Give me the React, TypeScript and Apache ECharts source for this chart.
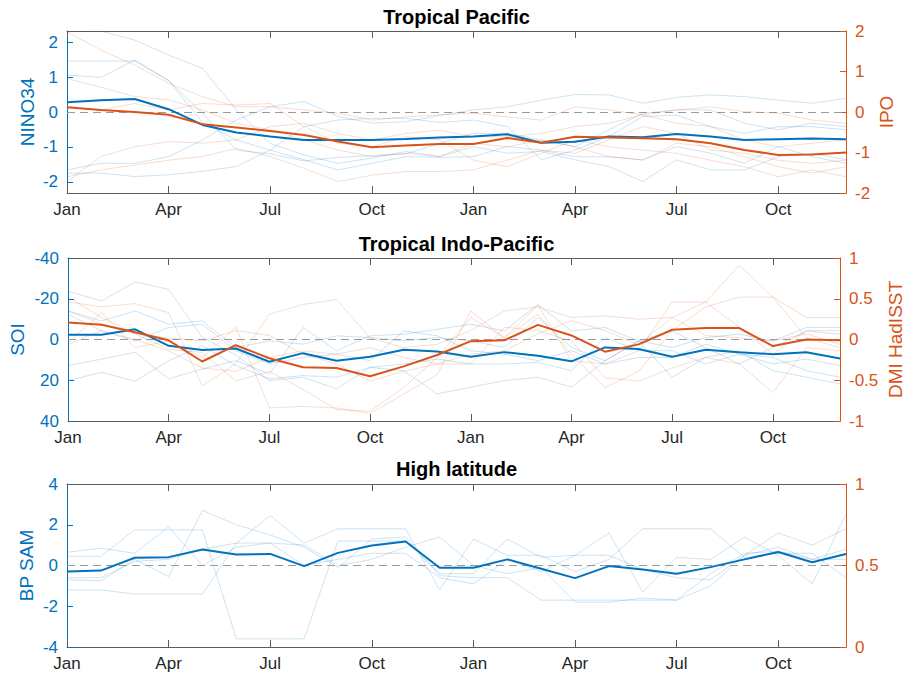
import React, { useEffect, useRef } from 'react';
import * as echarts from 'echarts';

// Month axis: two consecutive years
const MONTH_NAMES = ['Jan', 'Feb', 'Mar', 'Apr', 'May', 'Jun', 'Jul', 'Aug', 'Sep', 'Oct', 'Nov', 'Dec'];
const MONTHS = [...MONTH_NAMES, ...MONTH_NAMES];

// Tropical Pacific: NINO34 (left) and IPO (right)
const NINO34_MEAN = [0.28, 0.34, 0.37, 0.08, -0.37, -0.59, -0.7, -0.8, -0.8, -0.8, -0.77, -0.73, -0.7, -0.64, -0.88, -0.85, -0.7, -0.72, -0.63, -0.7, -0.8, -0.78, -0.76, -0.78];
const NINO34_1 = [2.3, 2.32, 2.06, 1.63, 1.25, 0.06, -0.9, -1.23, -1.47, -1.32, -1.13, -1.28, -0.99, -1.18, -1.13, -1.37, -1.56, -1.99, -1.37, -1.66, -1.66, -1.28, -1.18, -1.37];
const NINO34_2 = [1.46, 1.46, 1.46, 0.9, -0.3, -0.8, -1.09, -1.37, -1.66, -1.47, -1.28, -1.3, -1.28, -0.99, -1.09, -1.28, -1.28, -1.37, -0.99, -1.18, -1.47, -0.99, -1.28, -1.47];
const NINO34_3 = [1.06, 0.99, 1.49, 0.9, -0.04, -1.09, -1.2, -1.4, -1.3, -1.25, -1.2, -0.9, -0.61, -0.61, -0.8, -0.99, -0.51, -0.04, 0.06, 0.06, -0.32, -0.51, -0.32, -0.42];
const NINO34_4 = [-1.66, -1.47, -1.47, -1.28, -0.8, -0.23, 0.15, 0.3, -0.13, -0.32, -0.28, -0.1, 0.06, 0.15, 0.34, 0.5, 0.49, 0.25, 0.42, 0.49, 0.44, 0.34, 0.25, 0.39];
const NINO34_5 = [-1.75, -1.75, -1.85, -1.8, -1.7, -1.56, -1.09, -0.42, -0.23, -0.18, -0.18, -0.3, -0.23, -0.42, -1.37, -1.09, -0.7, -0.13, -0.09, -0.42, -0.61, -0.42, -0.42, -0.51];

const IPO_MEAN = [0.12, 0.05, 0.0, -0.07, -0.3, -0.38, -0.47, -0.57, -0.73, -0.87, -0.83, -0.79, -0.79, -0.64, -0.76, -0.61, -0.63, -0.65, -0.67, -0.77, -0.94, -1.06, -1.05, -1.0];
const IPO_1 = [1.98, 1.53, 1.16, 0.71, 0.38, 0.13, 0.13, 0.05, -0.03, -0.2, -0.12, -0.07, -0.03, -0.12, -0.2, 0.13, 0.05, -0.07, 0.05, 0.13, 0.01, -0.03, -0.2, -0.28];
const IPO_2 = [0.83, 0.61, 0.38, 0.3, 0.05, -0.28, -0.44, -0.69, -0.94, -1.1, -1.02, -1.1, -0.77, -0.86, -0.69, -0.86, -1.1, -1.19, -0.77, -0.86, -1.1, -1.35, -1.51, -1.35];
const IPO_3 = [-1.72, -1.1, -0.86, -0.73, -0.77, -0.69, -0.36, -0.28, -0.53, -0.69, -0.53, -0.45, -0.61, -0.61, -0.53, -0.36, -0.28, -0.07, -0.28, -0.36, -0.69, -0.86, -0.77, -0.69];
const IPO_4 = [-1.6, -1.43, -1.31, -1.19, -1.1, -0.9, -1.1, -1.39, -1.72, -1.56, -1.47, -1.47, -1.43, -1.19, -0.94, -1.02, -0.69, -0.36, -0.53, -0.94, -1.02, -1.19, -1.27, -1.19];
const IPO_5 = [0.13, 0.05, 0.21, 0.05, 0.21, 0.17, 0.21, -0.36, -0.77, -0.86, -0.61, -0.69, -1.19, -1.35, -1.02, -0.69, -0.86, -0.94, -1.02, -1.19, -1.35, -1.6, -1.43, -1.6];

// Tropical Indo-Pacific: SOI (left, inverted) and DMI HadISST (right)
const SOI_MEAN = [-2.3, -2.3, -5.0, 3.1, 5.2, 4.4, 10.9, 6.7, 10.4, 8.5, 5.0, 5.9, 8.5, 6.2, 8.0, 10.7, 3.9, 4.7, 8.5, 5.0, 6.3, 7.2, 6.3, 9.3];
const SOI_1 = [-23.7, -18.9, -28.3, -24.6, -1.0, 7.5, 20.2, 18.5, 24.2, 13.7, 15.3, 26.7, 23.4, 20.2, 18.5, 23.4, 10.4, 0.7, 18.5, 8.8, 5.5, 15.3, 18.5, 21.8];
const SOI_2 = [20.2, 16.1, 20.5, 10.4, 3.1, 12.8, 19.3, 17.7, 18.5, 13.7, 12.0, 9.6, 12.0, 12.0, 11.2, 15.3, -1.0, 5.5, 5.5, 12.0, 7.2, 12.0, 9.6, 12.8];
const SOI_3 = [12.8, 9.6, 6.3, 19.3, 14.5, 10.4, 16.9, -5.9, 5.5, -1.8, -2.6, -5.0, -7.5, -4.2, -17.2, -4.2, -5.9, 0.7, 3.9, -1.0, -2.6, 0.7, -5.9, -5.9];
const SOI_4 = [-14.0, -9.1, -14.0, -7.5, -9.1, 3.9, 0.7, 2.3, -1.8, -1.0, 0.7, -1.0, 0.7, 3.9, -10.7, 3.9, 10.4, 0.7, -4.2, 3.9, 12.0, 3.9, -4.2, -2.6];
const SOI_5 = [-12.4, -4.2, 0.7, -5.9, -7.5, 5.5, 12.0, 8.8, 7.2, 10.4, -4.2, -1.8, 5.5, 7.2, 10.4, 5.5, 12.0, 8.8, 8.8, 2.3, 7.2, 8.8, 15.3, 18.5];

const DMI_MEAN = [0.21, 0.18, 0.09, -0.01, -0.27, -0.07, -0.23, -0.34, -0.35, -0.45, -0.33, -0.19, -0.02, -0.01, 0.18, 0.05, -0.15, -0.06, 0.12, 0.14, 0.14, -0.08, 0.0, -0.01];
const DMI_1 = [0.46, 0.4, 0.44, 0.33, -0.57, -0.3, 0.31, 0.43, 0.49, 0.02, -0.1, -0.06, 0.11, 0.35, 0.4, 0.27, 0.29, 0.25, 0.27, 0.46, 0.91, 0.52, 0.27, 0.27];
const DMI_2 = [-0.04, 0.33, -0.1, -0.02, -0.22, 0.15, -0.84, -0.82, -0.84, -0.91, -0.67, -0.43, 0.35, 0.02, 0.31, -0.18, -0.59, -0.39, 0.11, 0.4, 0.52, 0.52, 0.02, -0.1];
const DMI_3 = [0.35, 0.19, 0.07, -0.12, -0.16, -0.51, -0.39, -0.61, -0.86, -0.88, -0.59, -0.22, 0.27, 0.02, 0.42, -0.26, -0.3, -0.14, 0.46, 0.46, 0.15, -0.18, 0.11, 0.11];
const DMI_4 = [-0.06, 0.11, 0.0, -0.14, -0.35, -0.39, -0.22, -0.14, -0.18, -0.1, -0.22, -0.3, -0.3, 0.15, 0.11, -0.02, -0.47, -0.51, -0.35, -0.22, -0.3, -0.65, -0.1, -0.14];
const DMI_5 = [0.52, 0.27, 0.07, 0.02, -0.02, 0.11, 0.05, -0.18, -0.3, -0.51, -0.39, -0.3, -0.18, -0.14, 0.07, 0.23, 0.11, -0.06, 0.27, 0.05, 0.02, -0.02, 0.07, -0.06];

// High latitude: BP SAM (left)
const SAM_MEAN = [-0.3, -0.25, 0.38, 0.41, 0.79, 0.54, 0.57, -0.03, 0.62, 0.98, 1.18, -0.11, -0.11, 0.3, -0.16, -0.62, -0.03, -0.2, -0.41, -0.08, 0.3, 0.66, 0.16, 0.56];
const SAM_1 = [0.65, 0.85, 0.6, 1.9, 0.0, 0.9, 1.1, 1.0, 0.0, 0.3, 0.9, 1.4, 0.0, -0.4, -0.1, -1.8, -1.8, -1.6, -1.7, -1.0, 0.5, 1.6, 1.0, 1.8];
const SAM_2 = [0.45, 0.45, 1.75, 1.75, 1.75, -3.6, -3.6, -3.6, 1.2, 1.2, 1.2, -0.4, -0.4, 1.3, 0.4, 0.5, 1.6, -1.3, 0.4, 0.3, 1.4, 0.5, -0.9, 2.5];
const SAM_3 = [-0.7, -0.75, 0.3, -0.55, 2.7, 2.0, 1.5, 0.9, -0.1, 1.3, 1.4, -0.5, -0.6, -0.6, -1.7, -1.7, -1.7, -1.7, -1.7, -0.4, 0.6, 0.7, 0.3, 0.3];
const SAM_4 = [-1.2, -1.2, -1.4, -1.4, -1.4, 1.1, 2.45, 1.1, 1.8, 1.8, 1.8, -1.2, 1.3, 0.5, 0.5, -0.3, 0.3, 1.8, 1.8, 1.8, 0.4, 0.6, 0.6, -0.6];
const SAM_5 = [-0.6, -0.6, 0.2, 0.3, 0.8, 1.1, 1.1, 0.0, 0.3, 0.6, 0.6, -0.6, -0.9, 0.3, -0.3, 0.5, 0.5, -0.2, -0.6, -0.7, 0.5, 0.9, 0.3, 0.8];

// Panel titles and axis names
const TITLES = ['Tropical Pacific', 'Tropical Indo-Pacific', 'High latitude'];
const LEFT_NAMES = ['NINO34', 'SOI', 'BP SAM'];
const RIGHT_NAMES = ['IPO', 'DMI HadISST', ''];
const NINO34_TICKS = [-2, -1, 0, 1, 2];

const BLUE = '#0072BD';
const ORANGE = '#D95319';
const BLUE_THIN = 'rgba(0,114,189,0.2)';
const ORANGE_THIN = 'rgba(217,83,25,0.2)';
const FRAME = '#5c5c5c';
const FONT = '"Liberation Sans", Arial, Helvetica, sans-serif';

const GRIDS = [
  { top: 31, height: 162 },
  { top: 258, height: 163 },
  { top: 484, height: 163 },
];
const TITLE_TOPS = [7, 234, 459];

function lineSeries(data: number[], xIdx: number, yIdx: number, color: string, width: number, z: number) {
  return {
    type: 'line',
    data,
    xAxisIndex: xIdx,
    yAxisIndex: yIdx,
    symbol: 'none',
    silent: true,
    z,
    lineStyle: { color, width },
  };
}

function zeroLine() {
  return {
    silent: true,
    symbol: ['none', 'none'],
    label: { show: false },
    lineStyle: { color: '#9a9a9a', type: [8, 5], width: 1 },
    data: [{ yAxis: 0 }],
  };
}

function xAxes(g: number) {
  const common = {
    type: 'category',
    gridIndex: g,
    data: MONTHS,
    boundaryGap: false,
    axisLine: { show: true, onZero: false, lineStyle: { color: FRAME, width: 1 } },
    axisTick: { show: true, inside: true, interval: 2, length: 7, lineStyle: { color: FRAME } },
    splitLine: { show: false },
  };
  return [
    {
      ...common,
      position: 'bottom',
      axisLabel: { interval: 2, margin: 8, color: '#262626', fontSize: 17, fontFamily: FONT },
    },
    { ...common, position: 'top', axisLabel: { show: false } },
  ];
}

function yAxis(g: number, side: 'left' | 'right', color: string, name: string, nameGap: number, extra: any) {
  return {
    type: 'value',
    gridIndex: g,
    position: side,
    name,
    nameLocation: 'middle',
    nameRotate: 90,
    nameGap,
    nameMoveOverlap: false,
    nameTextStyle: { color, fontSize: 19, fontFamily: FONT },
    axisLine: { show: true, onZero: false, lineStyle: { color, width: 1 } },
    axisTick: { show: true, inside: true, length: 6, lineStyle: { color } },
    axisLabel: { color, fontSize: 17, fontFamily: FONT, margin: 9 },
    splitLine: { show: false },
    ...extra,
  };
}

export default function App() {
  const ref = useRef<HTMLDivElement>(null);

  useEffect(() => {
    if (!ref.current) return;
    const chart = echarts.init(ref.current, null, { renderer: 'svg' });

    const option: any = {
      animation: false,
      backgroundColor: '#ffffff',
      title: TITLES.map((t, i) => ({
        text: t,
        left: 'center',
        top: TITLE_TOPS[i],
        padding: 0,
        textStyle: { fontFamily: FONT, fontWeight: 'bold', fontSize: 20, color: '#000' },
      })),
      grid: GRIDS.map((g) => ({ left: 67, right: 67, top: g.top, height: g.height, containLabel: false })),
      xAxis: [...xAxes(0), ...xAxes(1), ...xAxes(2)],
      yAxis: [
        yAxis(0, 'left', BLUE, LEFT_NAMES[0], 30, {
          min: -2.32,
          max: 2.32,
          axisTick: { show: true, inside: true, length: 6, lineStyle: { color: BLUE }, customValues: NINO34_TICKS },
          axisLabel: { color: BLUE, fontSize: 17, fontFamily: FONT, margin: 9, customValues: NINO34_TICKS },
        }),
        yAxis(0, 'right', ORANGE, RIGHT_NAMES[0], 31, { min: -2, max: 2, interval: 1 }),
        yAxis(1, 'left', BLUE, LEFT_NAMES[1], 41, { min: -40, max: 40, interval: 20, inverse: true }),
        yAxis(1, 'right', ORANGE, RIGHT_NAMES[1], 46, { min: -1, max: 1, interval: 0.5 }),
        yAxis(2, 'left', BLUE, LEFT_NAMES[2], 31, { min: -4, max: 4, interval: 2 }),
        yAxis(2, 'right', ORANGE, RIGHT_NAMES[2], 30, { min: 0, max: 1, interval: 0.5 }),
      ],
      series: [
        // Tropical Pacific
        { ...lineSeries(NINO34_1, 0, 0, BLUE_THIN, 1, 2), markLine: zeroLine() },
        lineSeries(NINO34_2, 0, 0, BLUE_THIN, 1, 2),
        lineSeries(NINO34_3, 0, 0, BLUE_THIN, 1, 2),
        lineSeries(NINO34_4, 0, 0, BLUE_THIN, 1, 2),
        lineSeries(NINO34_5, 0, 0, BLUE_THIN, 1, 2),
        lineSeries(IPO_1, 0, 1, ORANGE_THIN, 1, 2),
        lineSeries(IPO_2, 0, 1, ORANGE_THIN, 1, 2),
        lineSeries(IPO_3, 0, 1, ORANGE_THIN, 1, 2),
        lineSeries(IPO_4, 0, 1, ORANGE_THIN, 1, 2),
        lineSeries(IPO_5, 0, 1, ORANGE_THIN, 1, 2),
        lineSeries(NINO34_MEAN, 0, 0, BLUE, 2, 5),
        lineSeries(IPO_MEAN, 0, 1, ORANGE, 2, 6),
        // Tropical Indo-Pacific
        { ...lineSeries(SOI_1, 2, 2, BLUE_THIN, 1, 2), markLine: zeroLine() },
        lineSeries(SOI_2, 2, 2, BLUE_THIN, 1, 2),
        lineSeries(SOI_3, 2, 2, BLUE_THIN, 1, 2),
        lineSeries(SOI_4, 2, 2, BLUE_THIN, 1, 2),
        lineSeries(SOI_5, 2, 2, BLUE_THIN, 1, 2),
        lineSeries(DMI_1, 2, 3, ORANGE_THIN, 1, 2),
        lineSeries(DMI_2, 2, 3, ORANGE_THIN, 1, 2),
        lineSeries(DMI_3, 2, 3, ORANGE_THIN, 1, 2),
        lineSeries(DMI_4, 2, 3, ORANGE_THIN, 1, 2),
        lineSeries(DMI_5, 2, 3, ORANGE_THIN, 1, 2),
        lineSeries(SOI_MEAN, 2, 2, BLUE, 2, 5),
        lineSeries(DMI_MEAN, 2, 3, ORANGE, 2, 6),
        // High latitude
        { ...lineSeries(SAM_1, 4, 4, BLUE_THIN, 1, 2), markLine: zeroLine() },
        lineSeries(SAM_2, 4, 4, BLUE_THIN, 1, 2),
        lineSeries(SAM_3, 4, 4, BLUE_THIN, 1, 2),
        lineSeries(SAM_4, 4, 4, BLUE_THIN, 1, 2),
        lineSeries(SAM_5, 4, 4, BLUE_THIN, 1, 2),
        lineSeries(SAM_MEAN, 4, 4, BLUE, 2, 5),
      ],
    };

    chart.setOption(option);
    return () => chart.dispose();
  }, []);

  return (
    <div
      ref={ref}
      style={{ position: 'absolute', left: 0, top: 0, width: 913, height: 677, background: '#fff' }}
    />
  );
}
